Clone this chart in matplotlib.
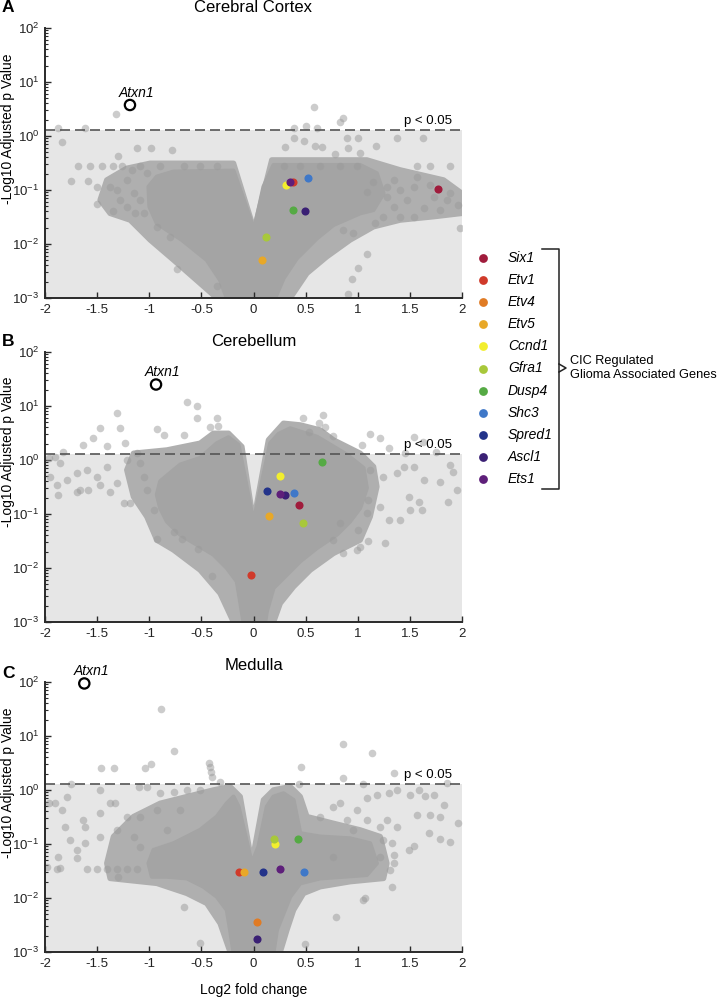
import numpy as np
import matplotlib
matplotlib.use('Agg')
import matplotlib.pyplot as plt
from matplotlib.patches import Polygon
from matplotlib.lines import Line2D

plt.rcParams['font.family'] = ['Liberation Sans', 'DejaVu Sans']
plt.rcParams['mathtext.fontset'] = 'custom'
plt.rcParams['mathtext.rm'] = 'Liberation Sans'
plt.rcParams['mathtext.it'] = 'Liberation Sans:italic'
plt.rcParams['axes.unicode_minus'] = False

# ---------------- data ----------------
genes = ['Six1', 'Etv1', 'Etv4', 'Etv5', 'Ccnd1', 'Gfra1', 'Dusp4', 'Shc3', 'Spred1', 'Ascl1', 'Ets1']
gene_colors = ['#A01C3C', '#D03A2A', '#E07B24', '#E8A828', '#F2EE2E', '#A8C83A',
               '#55AA44', '#3F78C8', '#23338A', '#3A2074', '#5E1F7A']

panel_titles = ['Cerebral Cortex', 'Cerebellum', 'Medulla']
panel_letters = ['A', 'B', 'C']
x_ticks = [-2, -1.5, -1, -0.5, 0, 0.5, 1, 1.5, 2]
x_tick_labels = ['-2', '-1.5', '-1', '-0.5', '0', '0.5', '1', '1.5', '2']
sig_threshold = 1.3

nan = np.nan
# gene positions (log2 FC, -log10 adj p) per panel, aligned with `genes`
cortex_gene_x = [1.767, 0.382, nan, 0.085, 0.309, 0.117, 0.376, 0.526, nan, 0.497, 0.350]
cortex_gene_y = [0.103, 0.143, nan, 0.0051, 0.124, 0.0133, 0.0427, 0.169, nan, 0.0403, 0.143]
cereb_gene_x = [0.440, -0.024, nan, 0.146, 0.254, 0.472, 0.660, 0.392, 0.127, 0.302, 0.254]
cereb_gene_y = [0.147, 0.0074, nan, 0.093, 0.50, 0.069, 0.905, 0.248, 0.263, 0.222, 0.234]
medulla_gene_x = [nan, -0.142, 0.031, -0.094, 0.206, 0.197, 0.424, 0.481, 0.091, 0.034, 0.257]
medulla_gene_y = [nan, 0.0303, 0.00365, 0.0303, 0.100, 0.124, 0.124, 0.0303, 0.0303, 0.00172, 0.034]

atxn1_x = [-1.185, -0.935, -1.623]
atxn1_y = [3.75, 25.0, 94.0]

# outline of the semi-dense cloud of genes (estimated)
cortex_halo_x = [-0.352, -0.512, -0.767, -0.991, -1.183, -1.375, -1.471, -1.407, -1.215, -0.991, -0.192,
                 0.006, 0.176, 1.087, 1.407, 1.823, 1.998, 1.998, 1.727, 1.407, 1.151, 0.927, 0.703,
                 0.512, 0.352]
cortex_halo_y = [0.001, 0.00187, 0.00506, 0.0119, 0.0278, 0.0370, 0.0653, 0.153, 0.252, 0.312, 0.312,
                 0.0182, 0.360, 0.360, 0.235, 0.153, 0.0867, 0.0370, 0.0321, 0.0278, 0.0209, 0.0119, 0.00582,
                 0.00287, 0.001]
cereb_halo_x = [-0.192, -0.320, -0.512, -0.767, -0.927, -1.023, -1.151, -1.215, -1.151, -0.831, -0.512,
                -0.384, -0.240, -0.112, 0.0, 0.144, 0.288, 0.448, 0.639, 0.767, 1.023, 1.151, 1.183,
                1.119, 1.023, 0.767, 0.544, 0.384, 0.256, 0.192]
cereb_halo_y = [0.001, 0.00340, 0.00918, 0.0216, 0.0330, 0.0893, 0.209, 0.653, 1.33, 1.53, 2.04,
                3.12, 3.12, 1.77, 0.0711, 2.35, 4.78, 4.45, 3.59, 2.35, 1.33, 0.753, 0.321,
                0.0893, 0.0330, 0.0187, 0.00918, 0.00451, 0.00222, 0.001]
medulla_halo_x = [-0.224, -0.320, -0.448, -0.639, -0.927, -1.375, -1.407, -1.343, -1.151, -0.895, -0.639,
                  -0.384, -0.224, -0.128, -0.016, 0.096, 0.192, 0.352, 0.448, 0.512, 0.767, 1.023,
                  1.215, 1.279, 1.247, 0.927, 0.639, 0.480, 0.384, 0.320, 0.256]
medulla_halo_y = [0.001, 0.00340, 0.00797, 0.0122, 0.0187, 0.0231, 0.0439, 0.137, 0.321, 0.566, 0.753,
                  1.0, 1.15, 0.753, 0.0439, 0.653, 1.0, 1.15, 0.753, 0.321, 0.241, 0.182,
                  0.137, 0.0439, 0.0231, 0.0201, 0.0162, 0.0122, 0.00600, 0.00255, 0.001]

# outline of the dense core of genes (estimated)
cortex_core_x = [-0.256, -0.320, -0.448, -0.687, -0.927, -0.998, -1.007, -0.927, -0.767, -0.192,
                 0.006, 0.096, 0.192, 1.023, 1.183, 1.247, 1.151, 1.023, 0.767, 0.608, 0.416, 0.288, 0.208]
cortex_core_y = [0.001, 0.00215, 0.00506, 0.0119, 0.0241, 0.0491, 0.115, 0.177, 0.219, 0.228,
                 0.0182, 0.115, 0.290, 0.290, 0.204, 0.0867, 0.0426, 0.0370, 0.0225, 0.0127, 0.00543, 0.00231, 0.001]

cereb_core_x = [-0.096, -0.128, -0.160, -0.256, -0.384, -0.544, -0.703, -0.831, -0.895, -0.927, -0.895,
                -0.703, -0.512, -0.352, -0.240, -0.144, 0.0, 0.160, 0.240, 0.352, 0.480, 0.608, 0.895,
                1.055, 1.087, 1.023, 0.927, 0.799, 0.608, 0.448, 0.320, 0.192, 0.128, 0.112]
cereb_core_y = [0.001, 0.00241, 0.00566, 0.0100, 0.0177, 0.0271, 0.0414, 0.0731, 0.129, 0.228, 0.403,
                0.820, 1.09, 2.04, 2.63, 1.90, 0.0711, 2.04, 3.03, 3.86, 3.21, 2.70, 1.26,
                0.711, 0.303, 0.129, 0.0731, 0.0414, 0.0234, 0.0133, 0.00753, 0.00427, 0.00158, 0.001]

medulla_core_x = [-0.192, -0.224, -0.256, -0.352, -0.480, -0.639, -0.831, -0.975, -1.007, -0.959, -0.767,
                  -0.512, -0.352, -0.256, -0.192, -0.144, -0.016, 0.048, 0.128, 0.192, 0.288, 0.384,
                  0.416, 0.448, 0.639, 0.927, 1.119, 1.183, 1.087, 0.863, 0.639, 0.448, 0.352, 0.288,
                  0.224, 0.192]
medulla_core_y = [0.001, 0.00255, 0.00600, 0.0106, 0.0162, 0.0231, 0.0248, 0.0248, 0.0439, 0.0774, 0.103,
                  0.182, 0.321, 0.566, 0.753, 0.491, 0.0439, 0.0893, 0.491, 0.753, 0.867, 0.653,
                  0.321, 0.158, 0.137, 0.127, 0.103, 0.0439, 0.0267, 0.0248, 0.0231, 0.0187, 0.0106, 0.00520,
                  0.00255, 0.001]

# individually visible genes outside the dense core (estimated)
cortex_pts_x = [-1.321, 0.576, 0.863, 0.825, -1.871, -1.621, 0.384, 0.502, 0.608,
                -1.839, -1.119, -0.982, -1.295, -0.783, 0.384, 0.480, 0.304, 0.592, 0.655,
                0.895, 1.007, 1.375, 1.624, 0.911, 1.177, 1.023, 0.783,
                -1.679, -1.567, -1.455, -1.343, -1.263, -1.087, -0.895, -0.671, -0.512, -0.352,
                0.288, 0.448, 0.640, 0.831, 0.991, 1.567, 1.695, 1.887,
                -1.749, -1.583, -1.503, -1.375, -1.503, -1.343, -1.135,
                1.567, 1.407, 1.727, 1.855, 1.966, 1.791, 1.631, 1.535, 1.982, 1.343, 1.279, 1.471,
                1.087, 1.247, 1.407, 1.167, 1.087, 1.007, 0.943, 0.911, -0.735, -0.352, -0.799,
                -0.927, 0.863, 0.959,
                -1.215, -1.151, -1.279, -1.087, -1.055, -1.311, -1.215, -1.023, -1.167,
                1.151, 1.343, 1.535, 1.695, 1.887, 1.279]
cortex_pts_y = [2.55, 3.40, 2.12, 1.84, 1.39, 1.39, 1.39, 1.55, 1.39,
                0.763, 0.591, 0.591, 0.432, 0.551, 0.931, 0.820, 0.634, 0.662, 0.634,
                0.931, 0.931, 0.931, 0.931, 0.591, 0.662, 0.478, 0.464,
                0.282, 0.282, 0.282, 0.282, 0.282, 0.282, 0.282, 0.282, 0.282, 0.282,
                0.282, 0.282, 0.282, 0.282, 0.282, 0.282, 0.282, 0.282,
                0.147, 0.147, 0.115, 0.115, 0.0551, 0.0408, 0.0370,
                0.177, 0.100, 0.0753, 0.0653, 0.0527, 0.0426, 0.0457, 0.0321, 0.0201, 0.0491, 0.0753, 0.0653,
                0.0931, 0.0321, 0.0321, 0.0241, 0.00644, 0.00365, 0.00228, 0.00119, 0.00340, 0.00169, 0.0137,
                0.0209, 0.0182, 0.0158,
                0.153, 0.0867, 0.0653, 0.0653, 0.0370, 0.100, 0.0491, 0.204, 0.235,
                0.143, 0.153, 0.115, 0.124, 0.0867, 0.115]

cereb_pts_x = [-0.640, -0.544, -1.311, -0.544, -0.352, -0.416, -0.336, -1.471, -1.279, -0.927,
               -0.863, -0.671, -1.535, -1.631, -1.407, -1.231, -1.823, 0.473, 0.624, 0.671,
               0.687, 0.528, 1.113, 1.215, 1.295, 0.767, 1.039, 1.535, 1.624, 1.749, 1.455,
               -1.966, -1.903, -1.855, -1.950, -1.887, -1.695, -1.791, -1.599, -1.503, -1.407,
               -1.311, -1.375, -1.471, -1.663, -1.583, -1.695, -1.871, -1.247, -1.183, -1.087,
               -1.055, -1.023, -0.959, -0.927, -0.767, -0.687, -0.528, -0.400, -1.119, -1.215,
               1.119, 1.247, 1.375, 1.439, 1.535, 1.631, 1.791, 1.887, 1.918, 1.864, 1.950,
               1.583, 1.487, 1.503, 1.615, 1.407, 1.295, 1.215, 1.103, 1.087, 1.007, 1.103,
               1.257, 0.863, 0.991, 1.023, 0.767, 0.831]
cereb_pts_y = [11.7, 10.1, 7.31, 5.91, 5.91, 4.14, 4.32, 3.97, 3.97, 3.75,
               2.90, 2.90, 2.52, 1.90, 1.82, 2.09, 1.43, 5.91, 4.78, 6.81,
               4.14, 3.35, 2.99, 2.59, 1.64, 2.78, 1.90, 2.63, 2.19, 1.43, 1.33,
               1.07, 1.15, 0.867, 0.491, 0.344, 0.566, 0.426, 0.653, 0.491, 0.753,
               0.370, 0.259, 0.344, 0.278, 0.278, 0.259, 0.225, 0.158, 0.158, 0.867,
               0.491, 0.278, 0.119, 0.0344, 0.0471, 0.0344, 0.0225, 0.00721, 1.33, 1.0,
               0.653, 0.491, 0.566, 0.753, 0.753, 0.426, 0.397, 0.808, 0.608, 0.169, 0.278,
               0.169, 0.209, 0.119, 0.119, 0.0774, 0.0774, 0.137, 0.182, 0.103, 0.0506, 0.0321,
               0.0286, 0.0187, 0.0216, 0.0248, 0.0330, 0.0671]

medulla_pts_x = [-0.883, 0.854, -0.761, 1.138, -1.464, -1.337, -1.036, -0.985, -0.425, -0.416,
                 -0.409, -0.396, 0.454, 1.343, 0.863, 1.855, -1.749, -0.320, 1.046, 0.441,
                 -1.966, -1.903, -1.839, -1.807, -1.791, -1.471, -1.631, -1.615, -1.471, -1.375,
                 -1.327, -1.103, -1.023, -0.895, -0.767, -0.639, -0.512, -1.759, -1.615, -1.695,
                 -1.871, -1.855, -1.695, -1.599, -1.503, -1.407, -1.311, -1.215, -1.119, -1.887,
                 -1.982, -1.471, -1.311, -1.215, -1.087, -1.151, -1.087, -1.295, -0.671, -0.512,
                 -0.831, -0.703, -0.927,
                 1.087, 1.183, 1.301, 1.375, 1.503, 1.583, 1.647, 1.727, 1.823, 1.567,
                 1.695, 1.791, 1.957, 1.679, 1.791, 1.887, 1.487, 1.535, 1.327, 1.247,
                 1.215, 1.279, 1.375, 1.343, 1.215, 1.311, 1.343, 1.327, 1.055, 1.071,
                 0.790, 0.496, 0.767, 0.831, 0.639, 0.895, 0.959, 1.087, 0.991, 0.767]
medulla_pts_y = [31.2, 7.11, 5.35, 4.84, 2.59, 2.52, 2.52, 3.03, 3.12, 2.63,
                 2.19, 1.77, 2.67, 2.09, 1.69, 1.33, 1.29, 1.43, 1.29, 1.29,
                 0.566, 0.566, 0.426, 0.209, 0.753, 1.0, 0.278, 0.209, 0.370, 0.566,
                 0.566, 1.12, 1.12, 0.867, 0.931, 1.0, 1.0, 0.119, 0.103, 0.0774,
                 0.0582, 0.0354, 0.0543, 0.0340, 0.0340, 0.0340, 0.0340, 0.0340, 0.0340, 0.0340,
                 0.0380, 0.137, 0.182, 0.321, 0.321, 0.137, 0.0893, 0.0248, 0.00691, 0.00145,
                 0.182, 0.426, 0.426,
                 0.701, 0.808, 0.867, 1.0, 0.808, 1.0, 0.785, 0.808, 0.528, 0.344,
                 0.344, 0.321, 0.248, 0.158, 0.122, 0.110, 0.0774, 0.0918, 0.103, 0.119,
                 0.209, 0.278, 0.209, 0.0626, 0.0582, 0.0330, 0.0439, 0.0162, 0.00918, 0.0100,
                 0.00445, 0.00143, 0.491, 0.566, 0.321, 0.278, 0.182, 0.278, 0.426, 0.0582]

panels = [
    (cortex_halo_x, cortex_halo_y, cortex_core_x, cortex_core_y, cortex_pts_x, cortex_pts_y,
     cortex_gene_x, cortex_gene_y),
    (cereb_halo_x, cereb_halo_y, cereb_core_x, cereb_core_y, cereb_pts_x, cereb_pts_y,
     cereb_gene_x, cereb_gene_y),
    (medulla_halo_x, medulla_halo_y, medulla_core_x, medulla_core_y, medulla_pts_x, medulla_pts_y,
     medulla_gene_x, medulla_gene_y),
]

# ---------------- layout (pixels of a 726x998 canvas) ----------------
W, H = 726, 998
fig = plt.figure(figsize=(W / 100, H / 100), dpi=100)

ax_left, ax_right = 45, 462
ax_tops = [28, 352, 682]
ax_h = 270
title_y = [8, 342, 665]
letter_y = [7, 341, 673]
ylabel_y = [129, 452, 783]

halo_col = '#afafaf'
dense_col = '#a4a4a4'
pt_col = '#9a9a9a'
spine_col = '#2a2a2a'

for i, (hx, hy, cx, cy, px, py, gx, gy) in enumerate(panels):
    top = ax_tops[i]
    ax = fig.add_axes([ax_left / W, 1 - (top + ax_h) / H, (ax_right - ax_left) / W, ax_h / H])
    ax.set_yscale('log')
    ax.set_xlim(-2, 2)
    ax.set_ylim(1e-3, 1e2)

    ax.axhspan(1e-3, sig_threshold, color='#e6e6e6', zorder=0, lw=0)

    halo = Polygon(np.column_stack([hx, hy]), closed=True, fc=halo_col, ec=halo_col,
                   lw=4, joinstyle='round', zorder=1)
    ax.add_patch(halo)
    core = Polygon(np.column_stack([cx, cy]), closed=True, fc=dense_col, ec=dense_col,
                   lw=3, joinstyle='round', zorder=1.5)
    ax.add_patch(core)
    ax.scatter(px, py, s=30, color=pt_col, alpha=0.5, lw=0, zorder=2)

    ax.axhline(sig_threshold, color='#555555', lw=1.2, ls=(0, (6, 3)), zorder=3)
    ax.text(1.9, sig_threshold * 1.12, 'p < 0.05', ha='right', va='bottom', fontsize=9.5, zorder=6)

    for g, c, xx, yy in zip(genes, gene_colors, gx, gy):
        if np.isnan(xx):
            continue
        ax.scatter([xx], [yy], s=34, color=c, lw=0, zorder=4)

    ax.scatter([atxn1_x[i]], [atxn1_y[i]], s=55, facecolor='none', edgecolor='black', lw=1.6,
               zorder=5, clip_on=False)
    ax.annotate('Atxn1', (atxn1_x[i], atxn1_y[i]), xytext=(5, 9), textcoords='offset points',
                ha='center', va='center', fontsize=10, style='italic')

    for sp in ['top', 'right']:
        ax.spines[sp].set_visible(False)
    for sp in ['left', 'bottom']:
        ax.spines[sp].set_color(spine_col)
        ax.spines[sp].set_linewidth(1.4)
        ax.spines[sp].set_zorder(7)

    ax.set_xticks(x_ticks)
    ax.set_xticklabels(x_tick_labels)
    ax.tick_params(axis='both', which='major', direction='in', length=4, width=1, colors=spine_col,
                   labelsize=9.5, labelcolor='#222222', pad=4)
    ax.tick_params(axis='y', which='minor', direction='in', length=2.5, width=0.8, colors=spine_col)
    ax.yaxis.set_major_locator(matplotlib.ticker.LogLocator(base=10, numticks=10))
    ax.yaxis.set_minor_locator(matplotlib.ticker.LogLocator(base=10, subs=np.arange(2, 10), numticks=20))
    ax.yaxis.set_minor_formatter(matplotlib.ticker.NullFormatter())

    fig.text((ax_left + ax_right) / 2 / W, 1 - title_y[i] / H, panel_titles[i],
             ha='center', va='center', fontsize=12)
    fig.text(2 / W, 1 - letter_y[i] / H, panel_letters[i], ha='left', va='center',
             fontsize=12.5, fontweight='bold')
    fig.text(8 / W, 1 - ylabel_y[i] / H, '-Log10 Adjusted p Value', rotation=90,
             ha='center', va='center', fontsize=10)

fig.text((ax_left + ax_right) / 2 / W, 1 - 990 / H, 'Log2 fold change', ha='center', va='center',
         fontsize=10)

# ---------------- legend with bracket ----------------
lax = fig.add_axes([0, 0, 1, 1])
lax.set_xlim(0, W)
lax.set_ylim(H, 0)
lax.axis('off')
leg_top, leg_step = 258, 22.1
for k, (g, c) in enumerate(zip(genes, gene_colors)):
    yy = leg_top + k * leg_step
    lax.scatter([483], [yy], s=40, color=c, lw=0)
    lax.text(508, yy, g, ha='left', va='center', fontsize=10, style='italic')
br_x, br_top, br_bot, br_mid = 559, 249, 489, 368
lax.add_line(Line2D([542, br_x, br_x, 542], [br_top, br_top, br_bot, br_bot], color='#222222', lw=1.1))
lax.add_line(Line2D([br_x, 566, br_x], [br_mid - 4, br_mid, br_mid + 4], color='#222222', lw=1.1))
lax.text(570, br_mid, 'CIC Regulated\nGlioma Associated Genes', ha='left', va='center',
         fontsize=9.2, linespacing=1.2)

fig.savefig('out.png', dpi=100)
